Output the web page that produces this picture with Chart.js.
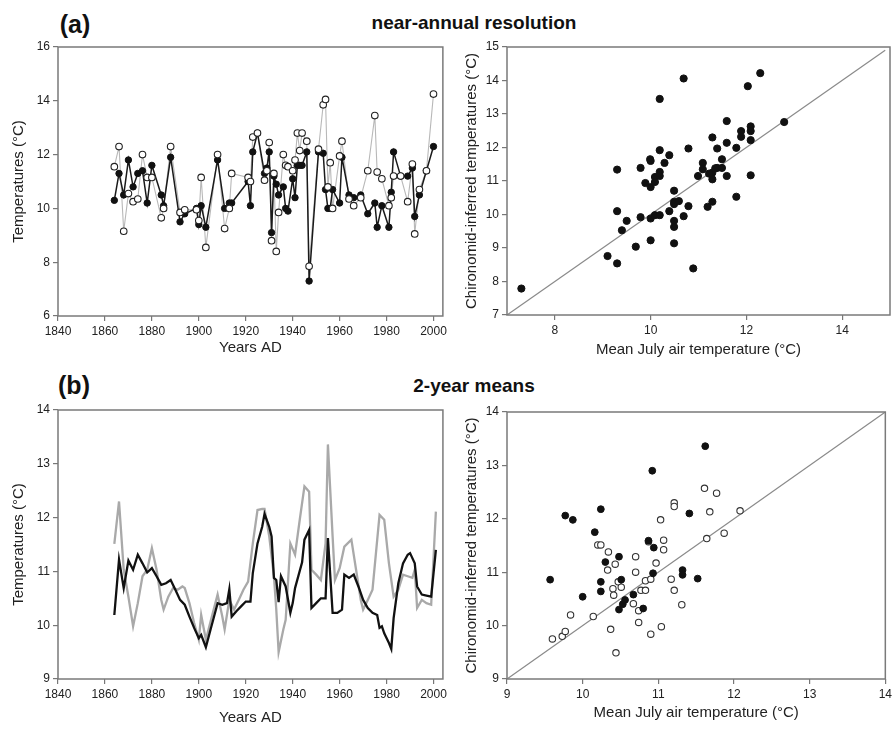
<!DOCTYPE html>
<html lang="en">
<head>
  <meta charset="UTF-8" />
  <title>Chironomid-inferred vs observed July temperatures</title>
  <script src="https://cdn.jsdelivr.net/npm/chart.js"></script>
  <style>
    body {
      margin: 0;
      width: 895px;
      height: 731px;
      background: #fff;
      position: relative;
      overflow: hidden;
      font-family: "Liberation Sans", Arial, sans-serif;
    }
    canvas { position: absolute; }
    .head {
      position: absolute;
      transform: translate(-50%, -50%);
      font-weight: bold;
      color: #111;
      white-space: nowrap;
    }
    .tag { font-size: 25px; }
    .sub { font-size: 19px; }
  </style>
</head>
<body>
  <div class="head tag" style="left:75px; top:24px">(a)</div>
  <div class="head sub" style="left:474px; top:23px">near-annual resolution</div>
  <div class="head tag" style="left:74px; top:385px">(b)</div>
  <div class="head sub" style="left:474px; top:386px">2-year means</div>

  <canvas id="annualLine" width="450" height="365" style="left:0; top:0"></canvas>
  <canvas id="annualScatter" width="450" height="365" style="left:445px; top:0"></canvas>
  <canvas id="meansLine" width="450" height="366" style="left:0; top:365px"></canvas>
  <canvas id="meansScatter" width="450" height="366" style="left:445px; top:365px"></canvas>

  <script>
    // (a) near-annual: observed (filled) and chironomid-inferred (open)
    const yearsA = [1864, 1866, 1868, 1870, 1872, 1874, 1876, 1878, 1880, 1884, 1885, 1888,
      1892, 1894, 1899, 1900, 1901, 1903, 1908, 1911, 1913, 1914, 1921, 1922, 1923, 1925,
      1928, 1929, 1930, 1931, 1932, 1933, 1934, 1936, 1937, 1938, 1940, 1941, 1942, 1943,
      1944, 1946, 1947, 1951, 1953, 1954, 1955, 1956, 1957, 1960, 1961, 1964, 1966, 1969,
      1972, 1975, 1976, 1978, 1981, 1982, 1983, 1986, 1989, 1991, 1992, 1994, 1997, 2000];
    const observedA = [10.3, 11.3, 10.5, 11.8, 10.8, 11.3, 11.4, 10.2, 11.6, 10.5, 10.1, 11.9,
      9.5, 9.8, 10.0, 9.4, 10.1, 9.3, 11.8, 10.0, 10.2, 10.2, 11.0, 10.1, 12.1, 12.8,
      11.3, 11.5, 12.1, 9.1, 11.2, 10.9, 10.5, 10.8, 10.0, 9.9, 11.1, 10.4, 11.6, 11.6,
      11.6, 12.1, 7.3, 12.1, 12.05, 10.7, 10.0, 10.0, 10.7, 10.2, 11.9, 10.5, 10.4, 10.5,
      9.8, 10.2, 9.3, 10.1, 9.3, 10.6, 12.1, 11.2, 11.2, 11.5, 9.7, 10.5, 11.4, 12.3];
    const inferredA = [11.55, 12.3, 9.15, 10.55, 10.25, 10.35, 12.0, 11.15, 11.15, 9.65, 10.0, 12.3,
      9.85, 9.95, 9.95, 9.55, 11.15, 8.55, 12.0, 9.25, 10.0, 11.3, 11.15, 11.0, 12.65, 12.8,
      11.05, 11.4, 12.45, 8.8, 11.3, 8.4, 9.85, 12.0, 11.6, 11.55, 11.4, 11.8, 12.8, 12.15,
      12.8, 12.5, 7.85, 12.2, 13.85, 14.05, 10.8, 11.7, 10.0, 11.95, 12.5, 10.35, 10.1, 10.4,
      11.4, 13.45, 11.35, 11.1, 10.1, 10.4, 11.2, 11.2, 10.25, 11.65, 9.05, 10.7, 11.4, 14.25];

    // (a) scatter: mean July air temperature vs chironomid-inferred
    const airA = [7.30, 9.10, 9.30, 9.30, 9.30, 9.40, 9.50, 9.69, 9.79, 9.79, 9.89, 9.99, 10.0,
      10.0, 10.0, 10.0, 10.09, 10.09, 10.09, 10.19, 10.19, 10.19, 10.19, 10.19, 10.29, 10.39,
      10.39, 10.49, 10.49, 10.49, 10.49, 10.49, 10.49, 10.59, 10.69, 10.69, 10.79, 10.79,
      10.89, 10.99, 11.09, 11.09, 11.19, 11.29, 11.29, 11.29, 11.29, 11.39, 11.39, 11.49,
      11.49, 11.59, 11.59, 11.59, 11.79, 11.79, 11.89, 11.89, 12.03, 12.09, 12.09, 12.09,
      12.09, 12.29, 12.79, 11.22, 11.35];
    const chiroA = [7.79, 8.76, 8.54, 11.34, 10.10, 9.53, 9.81, 9.04, 11.39, 9.92, 10.94, 11.65, 11.6,
      10.82, 9.88, 9.23, 11.12, 10.97, 9.98, 11.27, 11.15, 11.92, 13.45, 9.98, 11.54, 11.77,
      10.10, 10.71, 10.38, 10.31, 9.81, 9.63, 9.14, 10.40, 14.06, 9.95, 11.97, 10.25,
      8.39, 11.15, 11.54, 11.35, 10.23, 12.30, 11.25, 11.05, 10.38, 11.97, 11.39, 11.65,
      11.39, 12.79, 12.14, 11.15, 10.53, 11.99, 12.49, 12.32, 13.83, 12.63, 12.49, 12.22,
      11.17, 14.22, 12.76, 11.22, 11.38];
    const identityA = [7, 14.9];

    // (b) 2-year means
    const yearsObsB = [1864, 1866, 1868, 1870, 1872, 1874, 1876, 1878, 1880, 1882, 1884, 1886,
      1888, 1890, 1892, 1894, 1896, 1898, 1900, 1901, 1903, 1905, 1908, 1910, 1912, 1913,
      1914, 1916, 1918, 1920, 1922, 1923, 1925, 1927, 1928, 1930, 1931, 1932, 1933, 1934,
      1935, 1937, 1939, 1940, 1941, 1944, 1945, 1947, 1948, 1950, 1952, 1954, 1955, 1957,
      1959, 1961, 1962, 1964, 1966, 1968, 1970, 1972, 1974, 1976, 1977, 1978, 1979, 1981,
      1982, 1983, 1985, 1987, 1989, 1990, 1992, 1993, 1995, 1997, 1999, 2001];
    const meanObsB = [10.19, 11.22, 10.69, 11.2, 11.03, 11.31, 11.15, 10.98, 11.06, 10.91, 10.75, 10.78,
      10.84, 10.66, 10.47, 10.38, 10.16, 9.95, 9.76, 9.82, 9.59, 9.92, 10.41, 10.38, 10.41, 10.67,
      10.16, 10.26, 10.35, 10.44, 10.44, 10.97, 11.52, 11.83, 12.07, 11.83, 11.65, 10.88, 10.84, 10.43,
      10.91, 10.72, 10.23, 10.41, 10.69, 11.17, 11.59, 11.77, 10.32, 10.41, 10.5, 10.5, 11.62, 10.23,
      10.23, 10.29, 10.94, 10.88, 10.94, 10.72, 10.47, 10.32, 10.23, 10.19, 9.95, 9.98, 9.85, 9.67,
      9.56, 10.13, 10.78, 11.15, 11.31, 11.34, 11.15, 10.72, 10.57, 10.55, 10.53, 11.4];
    const yearsInfB = [1864, 1866, 1868, 1870, 1872, 1874, 1876, 1878, 1880, 1882, 1884, 1885,
      1887, 1889, 1891, 1893, 1894, 1896, 1898, 1900, 1901, 1903, 1905, 1908, 1910, 1911,
      1913, 1915, 1917, 1919, 1921, 1923, 1925, 1927, 1928, 1930, 1932, 1933, 1934, 1936,
      1937, 1939, 1941, 1943, 1945, 1947, 1948, 1950, 1952, 1954, 1955, 1957, 1958, 1960,
      1962, 1965, 1967, 1969, 1970, 1972, 1974, 1977, 1979, 1981, 1983, 1985, 1987, 1989,
      1991, 1992, 1993, 1995, 1997, 1999, 2001];
    const meanInfB = [11.51, 12.3, 11.03, 10.53, 9.98, 10.41, 10.91, 11.03, 11.43, 11.03, 10.47, 10.29,
      10.53, 10.69, 10.66, 10.72, 10.69, 10.41, 10.04, 9.73, 10.19, 9.73, 10.07, 10.57, 10.16, 9.92,
      10.47, 10.29, 10.47, 10.66, 10.81, 11.52, 12.14, 12.16, 12.16, 11.65, 10.91, 10.29, 9.5, 9.92,
      10.1, 11.52, 11.31, 11.96, 12.58, 12.48, 11.03, 10.94, 10.84, 11.52, 13.36, 11.65, 10.84, 11.06,
      11.46, 11.59, 11.03, 10.47, 10.29, 10.47, 10.66, 12.05, 11.96, 11.15, 10.53, 10.66, 10.94, 10.91,
      10.88, 11.03, 10.32, 10.47, 10.41, 10.38, 12.11];

    // (b) scatter: two groups of points (filled / open)
    const airFilledB = [9.57, 9.77, 9.87, 10.00, 10.16, 10.24, 10.24, 10.24, 10.30, 10.48, 10.51, 10.48,
      10.53, 10.56, 10.67, 10.80, 10.87, 10.92, 10.94, 10.93, 11.32, 11.32, 11.41, 11.52, 11.62];
    const chiroFilledB = [10.86, 12.06, 11.98, 10.54, 11.75, 12.18, 10.82, 10.64, 11.19, 11.29, 10.86, 10.30,
      10.40, 10.48, 10.58, 10.32, 11.59, 12.90, 11.46, 10.98, 11.04, 10.95, 12.10, 10.88, 13.36];
    const airOpenB = [9.60, 9.73, 9.77, 9.84, 10.14, 10.20, 10.24, 10.34, 10.33, 10.37, 10.40, 10.41,
      10.43, 10.44, 10.47, 10.51, 10.67, 10.70, 10.70, 10.74, 10.74, 10.77, 10.83, 10.83, 10.90,
      10.90, 10.87, 10.97, 11.03, 11.04, 11.07, 11.07, 11.17, 11.21, 11.21, 11.21, 11.31, 11.61,
      11.64, 11.68, 11.77, 11.87, 12.08];
    const chiroOpenB = [9.75, 9.80, 9.89, 10.20, 10.17, 11.51, 11.51, 11.38, 11.04, 9.93, 10.69, 10.57,
      11.15, 9.49, 10.82, 10.72, 10.41, 11.29, 11.00, 10.28, 10.06, 10.66, 10.66, 10.84, 10.87,
      9.84, 11.57, 11.17, 11.98, 9.98, 11.60, 11.42, 10.87, 12.30, 12.23, 10.66, 10.39, 12.57,
      11.63, 12.13, 12.48, 11.73, 12.15];
    const identityB = [9, 14];

    const ticksYearX = [1840, 1860, 1880, 1900, 1920, 1940, 1960, 1980, 2000];
    const ticksTempA = [6, 8, 10, 12, 14, 16];
    const ticksAirA = [8, 10, 12, 14];
    const ticksChiroA = [7, 8, 9, 10, 11, 12, 13, 14, 15];
    const ticksTempB = [9, 10, 11, 12, 13, 14];

    Chart.defaults.font.family = '"Liberation Sans", Arial, sans-serif';
    Chart.defaults.animation = false;
    Chart.defaults.plugins.legend.display = false;
    Chart.defaults.plugins.tooltip.enabled = false;

    const pairs = (xs, ys) => xs.map((x, i) => ({ x: x, y: ys[i] }));

    const framePlugin = {
      id: 'frame',
      afterDraw(chart) {
        const { ctx, chartArea: a } = chart;
        ctx.save();
        ctx.strokeStyle = '#7a7a7a';
        ctx.lineWidth = 1.5;
        ctx.strokeRect(a.left, a.top, a.right - a.left, a.bottom - a.top);
        ctx.restore();
      }
    };

    function axis(min, max, ticks, title, size, titlePad) {
      return {
        type: 'linear',
        min: min,
        max: max,
        afterBuildTicks: s => { s.ticks = ticks.map(v => ({ value: v })); },
        afterFit: s => { if (s.isHorizontal()) s.height = size; else s.width = size; },
        grid: { drawOnChartArea: false, drawTicks: true, tickLength: 5, color: '#777', lineWidth: 1.2 },
        border: { display: false },
        ticks: {
          color: '#222', font: { size: 12 }, padding: 3, maxRotation: 0,
          callback: v => String(v)
        },
        title: { display: true, text: title, color: '#222', font: { size: 15 }, padding: { top: titlePad, bottom: titlePad } }
      };
    }

    function makeChart(id, datasets, x, y, padding) {
      return new Chart(document.getElementById(id), {
        type: 'scatter',
        data: { datasets: datasets },
        options: {
          responsive: false,
          devicePixelRatio: 1,
          layout: { padding: padding },
          scales: { x: x, y: y }
        },
        plugins: [framePlugin]
      });
    }

    // (a) left: time series
    makeChart('annualLine', [
      { data: pairs(yearsA, inferredA), showLine: false, pointRadius: 3.3, pointBackgroundColor: '#fff',
        pointBorderColor: '#222', pointBorderWidth: 1.1 },
      { data: pairs(yearsA, observedA), showLine: true, borderColor: '#1a1a1a', borderWidth: 1.5,
        pointRadius: 3.2, pointBackgroundColor: '#111', pointBorderColor: '#111', pointBorderWidth: 1 },
      { data: pairs(yearsA, inferredA), showLine: true, borderColor: '#b8b8b8', borderWidth: 1.1, pointRadius: 0 }
    ],
      axis(1840, 2004, ticksYearX, 'Years AD', 49, 8),
      axis(6, 16, ticksTempA, 'Temperatures (°C)', 58, 10),
      { left: 0, right: 7, top: 47, bottom: 0 });

    // (a) right: scatter with 1:1 line
    makeChart('annualScatter', [
      { data: pairs(airA, chiroA), pointRadius: 3.6, pointBackgroundColor: '#111', pointBorderColor: '#111' },
      { type: 'line', data: pairs(identityA, identityA), borderColor: '#8a8a8a', borderWidth: 1.2, pointRadius: 0 }
    ],
      axis(7, 15, ticksAirA, 'Mean July air temperature (°C)', 50, 6),
      axis(7, 15, ticksChiroA, 'Chironomid-inferred temperatures (°C)', 62, 18),
      { left: 0, right: 3, top: 47, bottom: 0 });

    // (b) left: 2-year means
    makeChart('meansLine', [
      { data: pairs(yearsObsB, meanObsB), showLine: true, borderColor: '#111', borderWidth: 2.3, pointRadius: 0 },
      { data: pairs(yearsInfB, meanInfB), showLine: true, borderColor: '#a9a9a9', borderWidth: 2.3, pointRadius: 0 }
    ],
      axis(1840, 2004, ticksYearX, 'Years AD', 52, 4),
      axis(9, 14, ticksTempB, 'Temperatures (°C)', 58, 10),
      { left: 0, right: 5, top: 45, bottom: 0 });

    // (b) right: scatter with 1:1 line
    makeChart('meansScatter', [
      { data: pairs(airFilledB, chiroFilledB), pointRadius: 3.4, pointBackgroundColor: '#111', pointBorderColor: '#111' },
      { data: pairs(airOpenB, chiroOpenB), pointRadius: 3.2, pointBackgroundColor: '#fff',
        pointBorderColor: '#333', pointBorderWidth: 1.1 },
      { type: 'line', data: pairs(identityB, identityB), borderColor: '#8a8a8a', borderWidth: 1.2, pointRadius: 0 }
    ],
      axis(9, 14, ticksTempB, 'Mean July air temperature (°C)', 52, 9),
      axis(9, 14, ticksTempB, 'Chironomid-inferred temperatures (°C)', 62, 18),
      { left: 0, right: 6, top: 47, bottom: 0 });
  </script>
</body>
</html>
